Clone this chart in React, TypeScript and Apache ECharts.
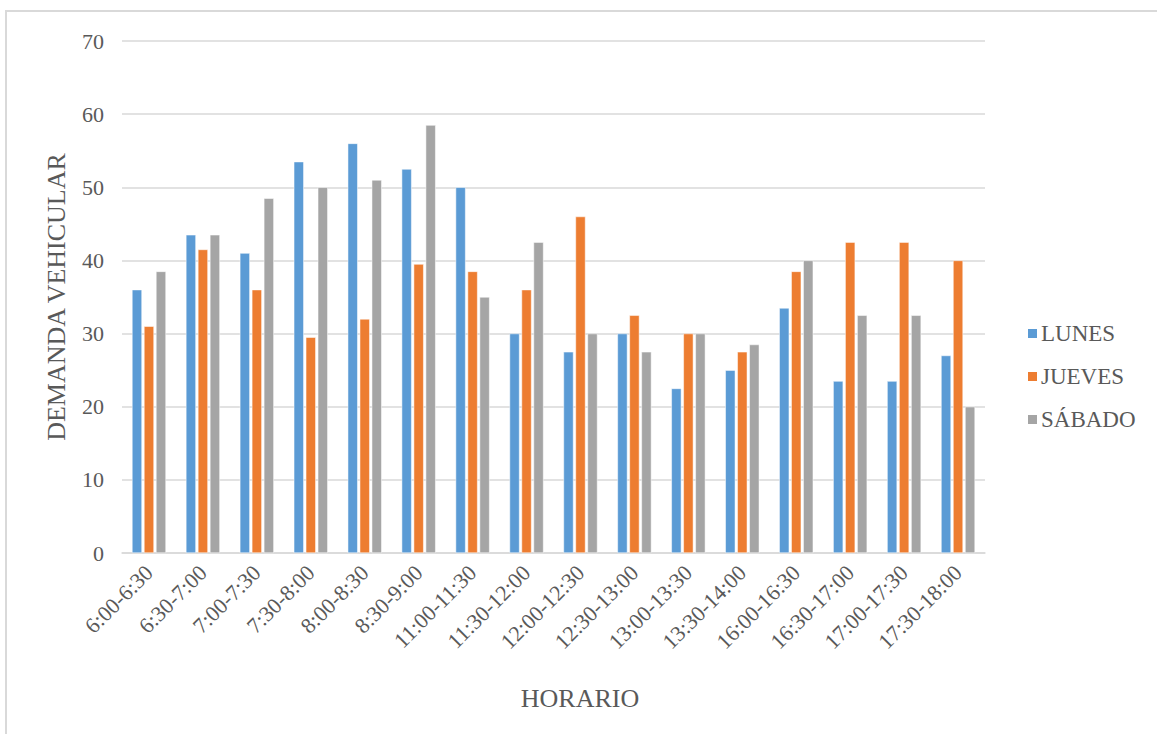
import React, { useEffect, useRef } from "react";
import * as echarts from "echarts";

const categories = [
  "6:00-6:30", "6:30-7:00", "7:00-7:30", "7:30-8:00", "8:00-8:30", "8:30-9:00",
  "11:00-11:30", "11:30-12:00", "12:00-12:30", "12:30-13:00", "13:00-13:30",
  "13:30-14:00", "16:00-16:30", "16:30-17:00", "17:00-17:30", "17:30-18:00",
];

const lunes = [36, 43.5, 41, 53.5, 56, 52.5, 50, 30, 27.5, 30, 22.5, 25, 33.5, 23.5, 23.5, 27];
const jueves = [31, 41.5, 36, 29.5, 32, 39.5, 38.5, 36, 46, 32.5, 30, 27.5, 38.5, 42.5, 42.5, 40];
const sabado = [38.5, 43.5, 48.5, 50, 51, 58.5, 35, 42.5, 30, 27.5, 30, 28.5, 40, 32.5, 32.5, 20];

const seriesNames = ["LUNES", "JUEVES", "SÁBADO"];
const seriesColors = ["#5B9BD5", "#ED7D31", "#A5A5A5"];

const FONT = "'Liberation Serif', 'Times New Roman', serif";
const TEXT = "#595959";

export default function App() {
  const ref = useRef<HTMLDivElement>(null);

  useEffect(() => {
    if (!ref.current) return;
    const chart = echarts.init(ref.current, undefined, { renderer: "svg" });
    const values = [lunes, jueves, sabado];
    chart.setOption({
      animation: false,
      backgroundColor: "#FFFFFF",
      textStyle: { fontFamily: FONT, color: TEXT },
      graphic: [
        {
          type: "rect",
          shape: { x: 6, y: 11, width: 1200, height: 800 },
          style: { fill: "none", stroke: "#D9D9D9", lineWidth: 2 },
          silent: true,
        },
        {
          type: "text",
          x: 580,
          y: 698,
          style: {
            text: "HORARIO",
            fontFamily: FONT,
            fontSize: 26,
            fill: TEXT,
            align: "center",
            verticalAlign: "middle",
          },
          silent: true,
        },
        {
          type: "text",
          x: 56,
          y: 297,
          rotation: Math.PI / 2,
          style: {
            text: "DEMANDA VEHICULAR",
            fontFamily: FONT,
            fontSize: 26,
            fill: TEXT,
            align: "center",
            verticalAlign: "middle",
          },
          silent: true,
        },
      ],
      grid: { left: 122, right: 172, top: 41, bottom: 181, containLabel: false },
      legend: {
        orient: "vertical",
        left: 1021,
        top: 317,
        itemWidth: 11,
        itemHeight: 11,
        itemGap: 20,
        icon: "rect",
        data: seriesNames,
        textStyle: { fontFamily: FONT, fontSize: 23, color: TEXT, lineHeight: 23, padding: [0, 0, 0, -2] },
      },
      xAxis: {
        type: "category",
        data: categories,
        axisLine: { lineStyle: { color: "#D9D9D9", width: 1.5 } },
        axisTick: { show: false },
        axisLabel: {
          rotate: 45,
          interval: 0,
          margin: 16,
          fontFamily: FONT,
          fontSize: 22,
          color: TEXT,
        },
      },
      yAxis: {
        type: "value",
        min: 0,
        max: 70,
        interval: 10,
        axisLine: { show: false },
        axisTick: { show: false },
        axisLabel: { margin: 18, fontFamily: FONT, fontSize: 22, color: TEXT },
        splitLine: { lineStyle: { color: "#D9D9D9", width: 1.5 } },
      },
      series: seriesNames.map((name, i) => ({
        name,
        type: "bar",
        data: values[i],
        barWidth: 10,
        barGap: "20%",
        itemStyle: { color: seriesColors[i], borderColor: "#FFFFFF", borderWidth: 0.5 },
      })),
    });
    return () => chart.dispose();
  }, []);

  return (
    <div
      ref={ref}
      style={{ position: "fixed", left: 0, top: 0, width: 1157, height: 734, background: "#fff" }}
    />
  );
}
